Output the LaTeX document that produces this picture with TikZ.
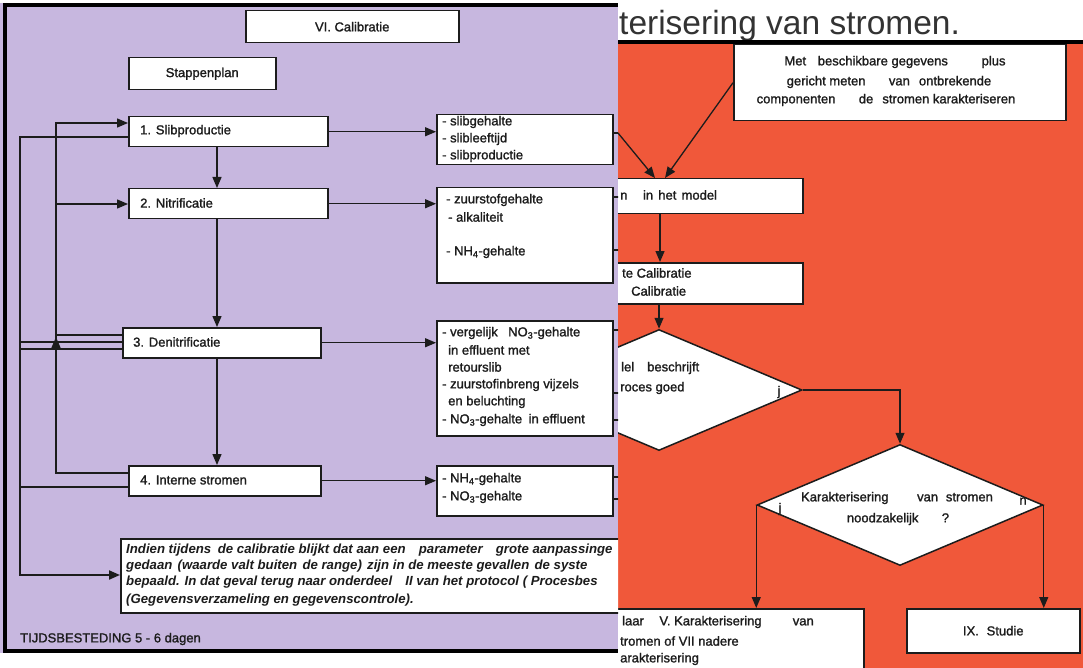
\documentclass[tikz,border=0pt]{standalone}
\usepackage{fontspec}
\setmainfont{Liberation Sans}[UprightFeatures={FakeBold=1.4}]
\newfontfamily\titlefont{Liberation Sans}
\usetikzlibrary{arrows.meta,shapes.geometric,calc}
\definecolor{lavender}{RGB}{199,183,223}
\definecolor{brick}{RGB}{240,88,58}
\definecolor{ink}{RGB}{28,28,28}
\begin{document}
\begin{tikzpicture}[x=1pt,y=-1pt,
  box/.style={draw=ink,line width=1.5pt,fill=white,inner sep=0pt,anchor=north west},
  lt/.style={inner sep=0pt,text=ink,font=\fontsize{13}{16}\selectfont},
  rt/.style={inner sep=0pt,text=ink,font=\fontsize{13}{15}\selectfont},
  nt/.style={inner sep=0pt,text=ink,font=\fontsize{13.2}{15}\selectfont\bfseries\itshape,anchor=west},
  link/.style={draw=ink,line width=1.3pt},
  arr/.style={link,-{Triangle[length=11pt,width=9pt]}},
  stub/.style={draw=ink,line width=1.2pt},
  frame/.style={draw=black,line width=4pt},
  dia/.style={diamond,draw=ink,line width=1.5pt,fill=white,inner sep=0pt,minimum width=286pt,minimum height=121pt},
]
\useasboundingbox (0,0) rectangle (1083,668);
\fill[white] (0,0) rectangle (1083,668);

% ---------- right sheet: characterisation of streams ----------
\begin{scope}
  \clip (618,0) rectangle (1083,668);
  \fill[brick] (618,42) rectangle (1083,668);
  \node[anchor=base west,inner sep=0pt,text=black!80,font=\titlefont\fontsize{33.5}{34}\selectfont] (title) at (619,35) {terisering van stromen.};
  \draw[black,line width=3.5pt] (618,42) -- (1083,42);

  \node[box,minimum width=332pt,minimum height=76pt] (met) at (733,44) {};
  \node[rt] (met1) at (895,62) {Met\hspace{0.9em}beschikbare gegevens\hspace{2.6em}plus};
  \node[rt] (met2) at (889,82) {gericht meten\hspace{1.8em}van\hspace{0.7em}ontbrekende};
  \node[rt] (met3) at (886,100) {componenten\hspace{1.8em}de\hspace{0.7em}stromen karakteriseren};

  \node[box,minimum width=202pt,minimum height=35pt] (model) at (600,178) {};
  \node[rt,anchor=west] (modelt) at (620,195) {n\hspace{1.2em}in\hspace{0.4em}het\hspace{0.4em}model};

  \node[box,minimum width=202pt,minimum height=41pt] (calib) at (600,262) {};
  \node[rt,anchor=west] (calib1) at (622,273) {te Calibratie};
  \node[rt,anchor=west] (calib2) at (631,291) {Calibratie};

  \node[dia] (d1) at (659,390) {};
  \node[rt,anchor=west] (d1a) at (621,368) {lel\hspace{1em}beschrijft};
  \node[rt,anchor=west] (d1b) at (620,388) {roces goed};
  \node[rt] (d1j) at (779,392) {j};

  \node[dia] (d2) at (900,505) {};
  \node[rt] (d2a) at (897,498) {Karakterisering\hspace{2.2em}van\hspace{0.6em}stromen};
  \node[rt] (d2b) at (898,519) {noodzakelijk\hspace{1.8em}?};
  \node[rt] (d2j) at (780,509) {j};
  \node[rt] (d2n) at (1023,501) {n};

  \node[box,minimum width=263pt,minimum height=80pt] (naar) at (600,608) {};
  \node[rt,anchor=west] (naar1) at (622,622) {laar\hspace{1.2em}V.\ Karakterisering\hspace{2.4em}van};
  \node[rt,anchor=west] (naar2) at (620,641) {tromen of VII nadere};
  \node[rt,anchor=west] (naar3) at (620,659) {arakterisering};

  \node[box,minimum width=173pt,minimum height=44pt] (ix) at (906,608) {};
  \node[rt] (ixt) at (ix.center) {IX.\hspace{0.6em}Studie};

  \coordinate (feed) at (618,133);
  \draw[arr] (feed) -- ([xshift=55pt]model.north west);
  \draw[arr] (met.west) -- ([xshift=65pt]model.north west);
  \draw[arr] ([xshift=60pt]model.south west) -- ([xshift=60pt]calib.north west);
  \draw[arr] (calib.south -| d1.north) -- (d1.north);
  \draw[arr] (d1.east) -| (d2.north);
  \draw[arr] (d2.west) -- (d2.west |- naar.north);
  \draw[arr] (d2.east) -- (d2.east |- ix.north);
\end{scope}

% ---------- left sheet: calibration step plan ----------
\begin{scope}
  \clip (0,0) rectangle (618,668);
  \fill[lavender] (0,3) rectangle (618,653);
  \draw[frame] (3,5) -- (618,5);
  \draw[frame] (5,3) -- (5,653);
  \draw[frame] (3,651) -- (618,651);

  \node[box,minimum width=213pt,minimum height=32pt] (vi) at (245,10) {};
  \node[lt] (vit) at (vi.center) {VI. Calibratie};
  \node[box,minimum width=147pt,minimum height=32pt] (stap) at (128,57) {};
  \node[lt] (stapt) at (stap.center) {Stappenplan};

  % steps
  \node[box,minimum width=199pt,minimum height=30pt] (b1) at (128,116) {};
  \node[lt,anchor=west] (b1t) at (140,131) {1. Slibproductie};
  \node[box,minimum width=199pt,minimum height=30pt] (b2) at (128,188) {};
  \node[lt,anchor=west] (b2t) at (140,203) {2. Nitrificatie};
  \node[box,minimum width=198pt,minimum height=30pt] (b3) at (122,327) {};
  \node[lt,anchor=west] (b3t) at (133,342) {3. Denitrificatie};
  \node[box,minimum width=192pt,minimum height=30pt] (b4) at (128,465) {};
  \node[lt,anchor=west] (b4t) at (140,480) {4. Interne stromen};

  % parameters per step
  \node[box,minimum width=176pt,minimum height=50pt] (r1) at (436,114) {};
  \node[lt,anchor=west] (r1a) at (442,122) {- slibgehalte};
  \node[lt,anchor=west] (r1b) at (442,139) {- slibleeftijd};
  \node[lt,anchor=west] (r1c) at (442,156) {- slibproductie};

  \node[box,minimum width=176pt,minimum height=95pt] (r2) at (436,187) {};
  \node[lt,anchor=west] (r2a) at (446,200) {- zuurstofgehalte};
  \node[lt,anchor=west] (r2b) at (448,217) {- alkaliteit};
  \node[lt,anchor=west] (r2c) at (446,252) {- NH\textsubscript{4}-gehalte};

  \node[box,minimum width=176pt,minimum height=115pt] (r3) at (436,320) {};
  \node[lt,anchor=west] (r3a) at (442,333) {- vergelijk\hspace{0.8em}NO\textsubscript{3}-gehalte};
  \node[lt,anchor=west] (r3b) at (448,350) {in effluent met};
  \node[lt,anchor=west] (r3c) at (448,367) {retourslib};
  \node[lt,anchor=west] (r3d) at (442,385) {- zuurstofinbreng vijzels};
  \node[lt,anchor=west] (r3e) at (448,402) {en beluchting};
  \node[lt,anchor=west] (r3f) at (442,420) {- NO\textsubscript{3}-gehalte\hspace{0.5em}in effluent};

  \node[box,minimum width=176pt,minimum height=50pt] (r4) at (436,465) {};
  \node[lt,anchor=west] (r4a) at (442,479) {- NH\textsubscript{4}-gehalte};
  \node[lt,anchor=west] (r4b) at (442,497) {- NO\textsubscript{3}-gehalte};

  % note
  \node[box,minimum width=540pt,minimum height=74pt] (note) at (120,538) {};
  \node[nt] (n1) at (126,550) {Indien tijdens\hspace{0.5em}de calibratie blijkt dat aan een\hspace{1em}parameter\hspace{1em}grote aanpassinge};
  \node[nt] (n2) at (126,566) {gedaan\hspace{0.4em}(waarde valt buiten\hspace{0.4em}de range)\hspace{0.4em}zijn in de meeste gevallen\hspace{0.4em}de syste};
  \node[nt] (n3) at (126,582) {bepaald. In dat geval terug naar onderdeel\hspace{1em}II van het protocol ( Procesbes};
  \node[nt] (n4) at (126,600) {(Gegevensverzameling en gegevenscontrole).};

  \node[lt,anchor=west,font=\fontsize{13}{14}\selectfont] (tijd) at (20,639) {TIJDSBESTEDING 5 - 6 dagen};

  % main sequence
  \coordinate (vx) at (217,0);
  \draw[arr] (b1.south -| vx) -- (b2.north -| vx);
  \draw[arr] (b2.south -| vx) -- (b3.north -| vx);
  \draw[arr] (b3.south -| vx) -- (b4.north -| vx);
  \draw[arr] (b1.east) -- (b1.east -| r1.west);
  \draw[arr] (b2.east) -- (b2.east -| r2.west);
  \draw[arr] (b3.east) -- (b3.east -| r3.west);
  \draw[arr] (b4.east) -- (b4.east -| r4.west);

  % inner return line
  \coordinate (iA) at (56,473);
  \coordinate (iB) at (56,123);
  \coordinate (iC) at (56,204);
  \coordinate (iD) at (56,335);
  \coordinate (iE) at (56,350);
  \coordinate (iF) at (56,337);
  \draw[arr] (b4.west |- iA) -- (iA) -- (iB) -- (b1.west |- iB);
  \draw[arr] (iC) -- (b2.west |- iC);
  \draw[link] (iD) -- (b3.west |- iD);
  \draw[arr] (iE) -- (iF);

  % outer return line
  \coordinate (oA) at (20,137);
  \coordinate (oB) at (20,575);
  \coordinate (oC) at (20,342);
  \coordinate (oD) at (20,349);
  \coordinate (oE) at (20,487);
  \draw[arr,line width=2pt] (b1.west |- oA) -- (oA) -- (oB) -- (note.west |- oB);
  \draw[link] (oC) -- (b3.west |- oC);
  \draw[link] (oD) -- (b3.west |- oD);
  \draw[link] (oE) -- (b4.west |- oE);

  % outgoing stubs at the sheet edge
  \draw[stub] ([yshift=-19pt]r1.north east) -- ++(8,0);
  \draw[stub] ([yshift=-10pt]r2.north east) -- ++(8,0);
  \draw[stub] ([yshift=-63pt]r2.north east) -- ++(8,0);
  \draw[stub] ([yshift=-10pt]r3.north east) -- ++(8,0);
  \draw[stub] ([yshift=-73pt]r3.north east) -- ++(8,0);
  \draw[stub] ([yshift=-100pt]r3.north east) -- ++(8,0);
  \draw[stub] ([yshift=-12pt]r4.north east) -- ++(8,0);
  \draw[stub] ([yshift=-34pt]r4.north east) -- ++(8,0);
\end{scope}
\end{tikzpicture}
\end{document}
